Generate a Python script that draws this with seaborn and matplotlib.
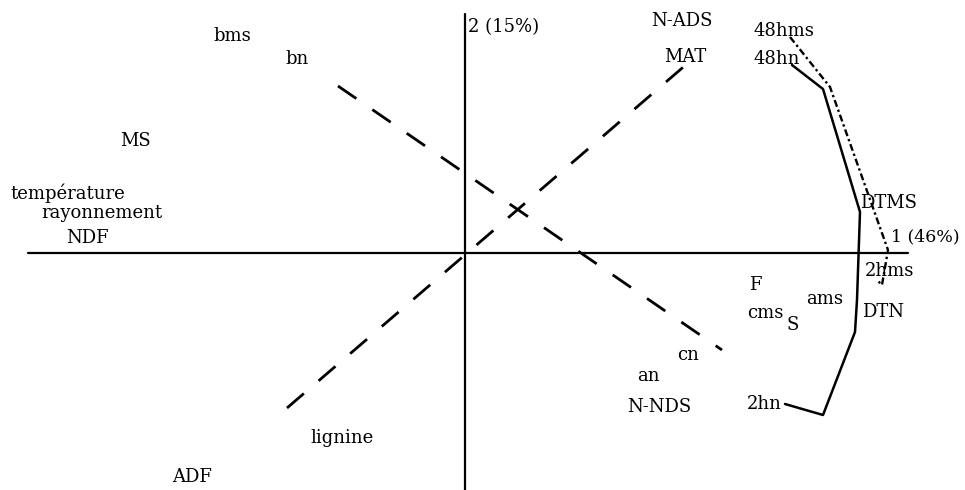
import numpy as np
import pandas as pd
import matplotlib
matplotlib.use("Agg")
import matplotlib.pyplot as plt
import seaborn as sns

# axis positions (units: hundreds of px relative to the origin)
axis1_x = [-4.37, 4.43]
axis2_y = [2.39, -2.37]

# dashed vectors
vec_bn_cn_x = [-1.27, 2.57]
vec_bn_cn_y = [1.67, -0.97]
vec_lig_mat_x = [-1.78, 2.30]
vec_lig_mat_y = [-1.55, 1.96]

# digestibility trajectories (solid = n, dash-dot = ms)
traj_n_x = [3.27, 3.58, 3.95, 3.92, 3.90, 3.58, 3.20]
traj_n_y = [1.88, 1.64, 0.41, -0.47, -0.79, -1.62, -1.51]
traj_ms_x = [3.25, 3.65, 4.23, 4.17, 4.12]
traj_ms_y = [2.16, 1.66, 0.03, -0.32, -0.27]

# labels
labels = ['bms', 'bn', 'MS', 'température', 'rayonnement', 'NDF',
          '2 (15%)', 'N-ADS', 'MAT', '48hms', '48hn', 'DTMS',
          '2hms', 'F', 'cms', 'S', 'ams', 'DTN', 'cn', 'an', 'N-NDS',
          '2hn', 'lignine', 'ADF']
label_x = [-2.52, -1.80, -3.45, -4.55, -4.24, -3.99,
           0.03, 1.86, 1.99, 2.88, 2.88, 3.95,
           4.00, 2.84, 2.82, 3.22, 3.41, 3.97, 2.12, 1.72, 1.62,
           2.82, -1.55, -2.93]
label_y = [2.17, 1.94, 1.12, 0.60, 0.40, 0.15,
           2.26, 2.32, 1.96, 2.22, 1.94, 0.50,
           -0.18, -0.32, -0.60, -0.72, -0.46, -0.59, -1.02, -1.23, -1.54,
           -1.51, -1.85, -2.24]
axis1_label = '1 (46%)'
axis1_label_pos = (4.95, 0.16)

sns.set_style("white")
plt.rcParams['font.family'] = ['DejaVu Serif']

fig = plt.figure(figsize=(9.65, 4.9), dpi=100)
ax = fig.add_axes([0, 0, 1, 1])

sns.lineplot(x=axis1_x, y=[0, 0], estimator=None, color='black', lw=1.6, ax=ax)
sns.lineplot(x=[0, 0], y=axis2_y, estimator=None, sort=False, color='black', lw=1.6, ax=ax)

sns.lineplot(x=vec_bn_cn_x, y=vec_bn_cn_y, estimator=None, color='black', lw=2,
             linestyle=(0, (8, 7)), ax=ax)
sns.lineplot(x=vec_lig_mat_x, y=vec_lig_mat_y, estimator=None, color='black', lw=2,
             linestyle=(0, (8, 7)), ax=ax)

sns.lineplot(x=traj_n_x, y=traj_n_y, sort=False, estimator=None,
             color='black', lw=1.8, ax=ax)
sns.lineplot(x=traj_ms_x, y=traj_ms_y, sort=False, estimator=None,
             color='black', lw=1.7, linestyle=(0, (3, 1.3, 1, 1.3)), ax=ax)

for t, x, y in zip(labels, label_x, label_y):
    ax.text(x, y, t, fontsize=13, ha='left', va='center', color='black')
ax.text(axis1_label_pos[0], axis1_label_pos[1], axis1_label, fontsize=12.5,
        ha='right', va='center', color='black')

ax.set_xlim(-4.65, 5.00)
ax.set_ylim(-2.37, 2.53)
ax.axis('off')

plt.savefig('out.png', dpi=100)
